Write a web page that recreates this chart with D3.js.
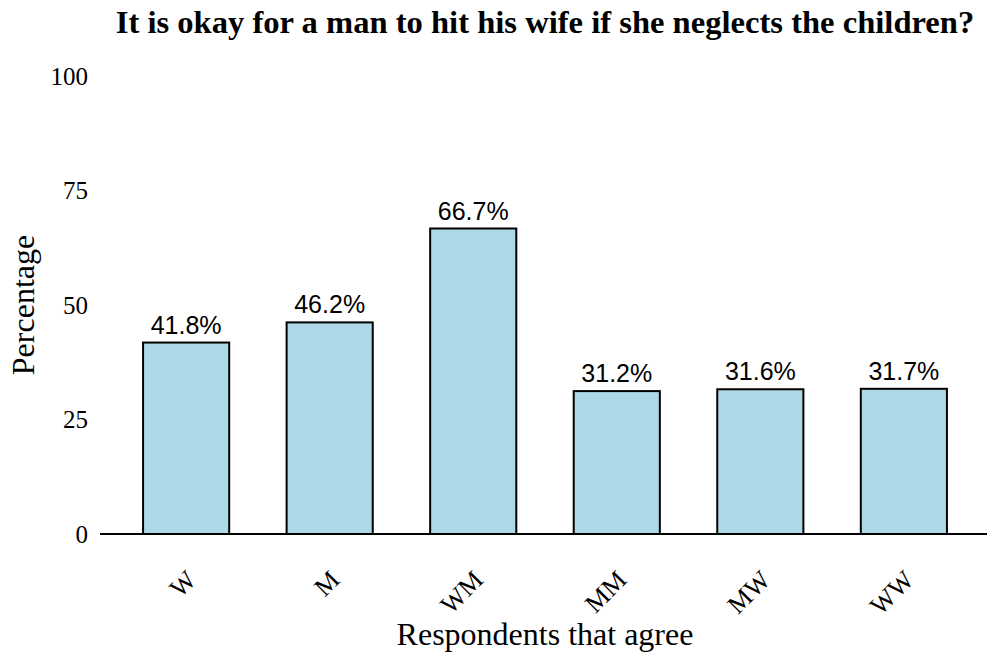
<!DOCTYPE html>
<html>
<head>
<meta charset="utf-8">
<script src="https://cdn.jsdelivr.net/npm/d3@7"></script>
<style>
  body { margin: 0; background: #fff; }
  text { fill: #000; }
</style>
</head>
<body>
<svg id="chart"></svg>
<script>
// data
const groups = ["W", "M", "WM", "MM", "MW", "WW"];
const agreePct = [41.8, 46.2, 66.7, 31.2, 31.6, 31.7];
const yTicks = [0, 25, 50, 75, 100];

const width = 987, height = 657;
const margin = {left: 100, right: -3, top: 76, bottom: 123};

const svg = d3.select("#chart")
    .attr("width", width)
    .attr("height", height);

const x = d3.scaleBand()
    .domain(groups)
    .range([margin.left, width - margin.right])
    .paddingInner(0.4)
    .paddingOuter(0.3);

const y = d3.scaleLinear()
    .domain([0, 100])
    .range([height - margin.bottom, margin.top]);

const serif = "'Liberation Serif', 'Times New Roman', serif";
const sans = "'Liberation Sans', Arial, sans-serif";

// title
svg.append("text")
    .attr("x", (margin.left + width - margin.right) / 2)
    .attr("y", 33)
    .attr("text-anchor", "middle")
    .style("font-family", serif)
    .style("font-weight", "bold")
    .style("font-size", "32.6px")
    .text("It is okay for a man to hit his wife if she neglects the children?");

// y tick labels only (no axis line)
svg.append("g")
    .selectAll("text")
    .data(yTicks)
    .enter().append("text")
    .attr("x", 88)
    .attr("y", d => y(d))
    .attr("dy", "0.35em")
    .attr("text-anchor", "end")
    .style("font-family", serif)
    .style("font-size", "25px")
    .text(d => d);

// bars
svg.append("g")
    .selectAll("rect")
    .data(groups)
    .enter().append("rect")
    .attr("x", d => x(d))
    .attr("y", (d, i) => y(agreePct[i]))
    .attr("width", x.bandwidth())
    .attr("height", (d, i) => y(0) - y(agreePct[i]))
    .attr("fill", "#ADD8E6")
    .attr("stroke", "#000")
    .attr("stroke-width", 2);

// value labels
svg.append("g")
    .selectAll("text")
    .data(groups)
    .enter().append("text")
    .attr("x", d => x(d) + x.bandwidth() / 2)
    .attr("y", (d, i) => y(agreePct[i]) - 9)
    .attr("text-anchor", "middle")
    .style("font-family", sans)
    .style("font-size", "25px")
    .text((d, i) => agreePct[i].toFixed(1) + "%");

// x axis line
svg.append("line")
    .attr("x1", margin.left)
    .attr("x2", width)
    .attr("y1", y(0))
    .attr("y2", y(0))
    .attr("stroke", "#000")
    .attr("stroke-width", 2);

// rotated x tick labels
svg.append("g")
    .selectAll("text")
    .data(groups)
    .enter().append("text")
    .attr("transform", d => "translate(" + (x(d) + x.bandwidth() / 2 + 5) + "," + (y(0) + 41) + ") rotate(-45)")
    .attr("dy", "0.35em")
    .attr("text-anchor", "end")
    .style("font-family", serif)
    .style("font-size", "26px")
    .text(d => d);

// axis titles
svg.append("text")
    .attr("x", (margin.left + width - margin.right) / 2)
    .attr("y", 645)
    .attr("text-anchor", "middle")
    .style("font-family", serif)
    .style("font-size", "32px")
    .text("Respondents that agree");

svg.append("text")
    .attr("transform", "translate(34," + ((y(0) + y(100)) / 2) + ") rotate(-90)")
    .attr("text-anchor", "middle")
    .style("font-family", serif)
    .style("font-size", "32px")
    .text("Percentage");
</script>
</body>
</html>
